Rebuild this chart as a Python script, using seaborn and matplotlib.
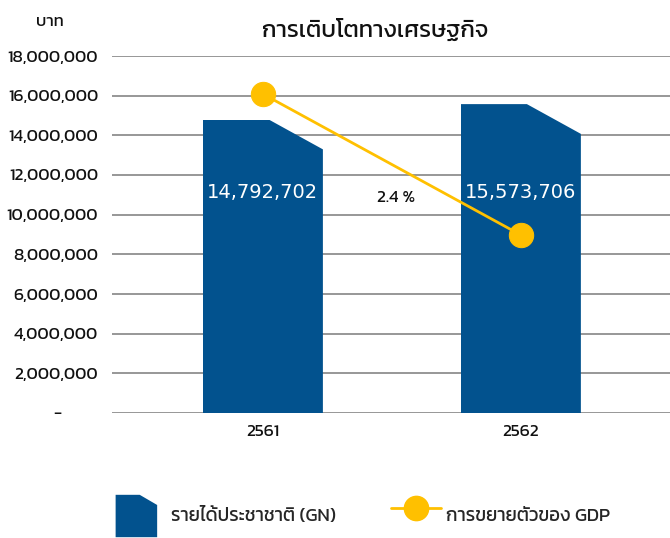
import matplotlib
matplotlib.use("Agg")
import matplotlib.pyplot as plt
from matplotlib.patches import Polygon, Patch
from matplotlib.lines import Line2D
from matplotlib.legend_handler import HandlerPatch
from matplotlib.ticker import FuncFormatter
import seaborn as sns

# data
years = ["2561", "2562"]
gni = [14792702, 15573706]          # รายได้ประชาชาติ (บาท)
gdp_growth = [4.2, 2.4]             # การขยายตัวของ GDP (%)
yticks = list(range(0, 18000001, 2000000))

bar_color = "#02528e"
line_color = "#ffc000"
grid_color = "#8f8f8f"
thai = ["Kanit", "DejaVu Sans"]

sns.set_theme(style="white")
plt.rcParams["font.family"] = thai

fig = plt.figure(figsize=(6.7, 5.38), dpi=100)
ax = fig.add_axes([112 / 670, 1 - 413 / 538, 558 / 670, 357 / 538])

sns.barplot(x=years, y=gni, color=bar_color, width=0.465, saturation=1, ax=ax, zorder=2)

# cut the top-right corner of each bar
cut = 1500000
for p in ax.patches:
    x0, w, h = p.get_x(), p.get_width(), p.get_height()
    poly = Polygon([(x0, 0), (x0, h), (x0 + 0.55 * w, h), (x0 + w, h - cut), (x0 + w, 0)],
                   closed=True, transform=ax.transData)
    p.set_clip_path(poly)
    p.set_linewidth(0)

for i, v in enumerate(gni):
    ax.text(i, 11100000, f"{v:,}", color="white", ha="center", va="center",
            fontsize=14, family="DejaVu Sans")

ax.set_xlim(-0.585, 1.578)
ax.set_ylim(0, 18000000)
ax.set_yticks(yticks)
ax.yaxis.set_major_formatter(FuncFormatter(lambda v, _: f"{v:,.0f}" if v else "-         "))
ax.grid(axis="y", color=grid_color, linewidth=1.3, zorder=0)
ax.set_axisbelow(True)
for s in ax.spines.values():
    s.set_visible(False)
ax.tick_params(axis="both", length=0, labelsize=12.5, colors="#111111")
ax.tick_params(axis="y", pad=10)
ax.tick_params(axis="x", pad=9)
ax.set_xlabel("")
ax.set_ylabel("")

# growth line on a hidden secondary axis
ax2 = ax.twinx()
sns.lineplot(x=[0, 1], y=gdp_growth, ax=ax2, color=line_color, linewidth=2,
             marker="o", markersize=17.5, markeredgecolor=line_color, zorder=3)
ax2.set_ylim(0.128, 4.685)
ax2.set_yticks([])
ax2.set_ylabel("")
for s in ax2.spines.values():
    s.set_visible(False)
ax2.annotate(f"{gdp_growth[1]} %", xy=(1, gdp_growth[1]), xytext=(-90, 27),
             textcoords="offset points", ha="center", va="center",
             fontsize=12.5, color="#111111")

fig.text(375 / 670, 1 - 30 / 538, "การเติบโตทางเศรษฐกิจ", ha="center", va="center",
         fontsize=17, color="#111111")
fig.text(50 / 670, 1 - 22 / 538, "บาท", ha="center", va="center", fontsize=12, color="#111111")


def tab_patch(legend, orig_handle, xdescent, ydescent, width, height, fontsize):
    w = height * 0.98
    x0, y0 = -xdescent, -ydescent
    return Polygon([(x0, y0), (x0, y0 + height), (x0 + 0.58 * w, y0 + height),
                    (x0 + w, y0 + height * 0.76), (x0 + w, y0)], closed=True)


handles = [Patch(facecolor=bar_color, linewidth=0),
           Line2D([], [], color=line_color, linewidth=2, marker="o", markersize=17.5,
                  markeredgecolor=line_color)]
labels = ["รายได้ประชาชาติ (GN)", "การขยายตัวของ GDP"]
fig.legend(handles, labels, loc="center", bbox_to_anchor=(363 / 670, 1 - 516 / 538),
           ncol=2, frameon=False, fontsize=13.5, handlelength=2.67, handleheight=3.1,
           handletextpad=0.3, columnspacing=2.9,
           handler_map={Patch: HandlerPatch(patch_func=tab_patch)})

fig.savefig("out.png", dpi=100)
